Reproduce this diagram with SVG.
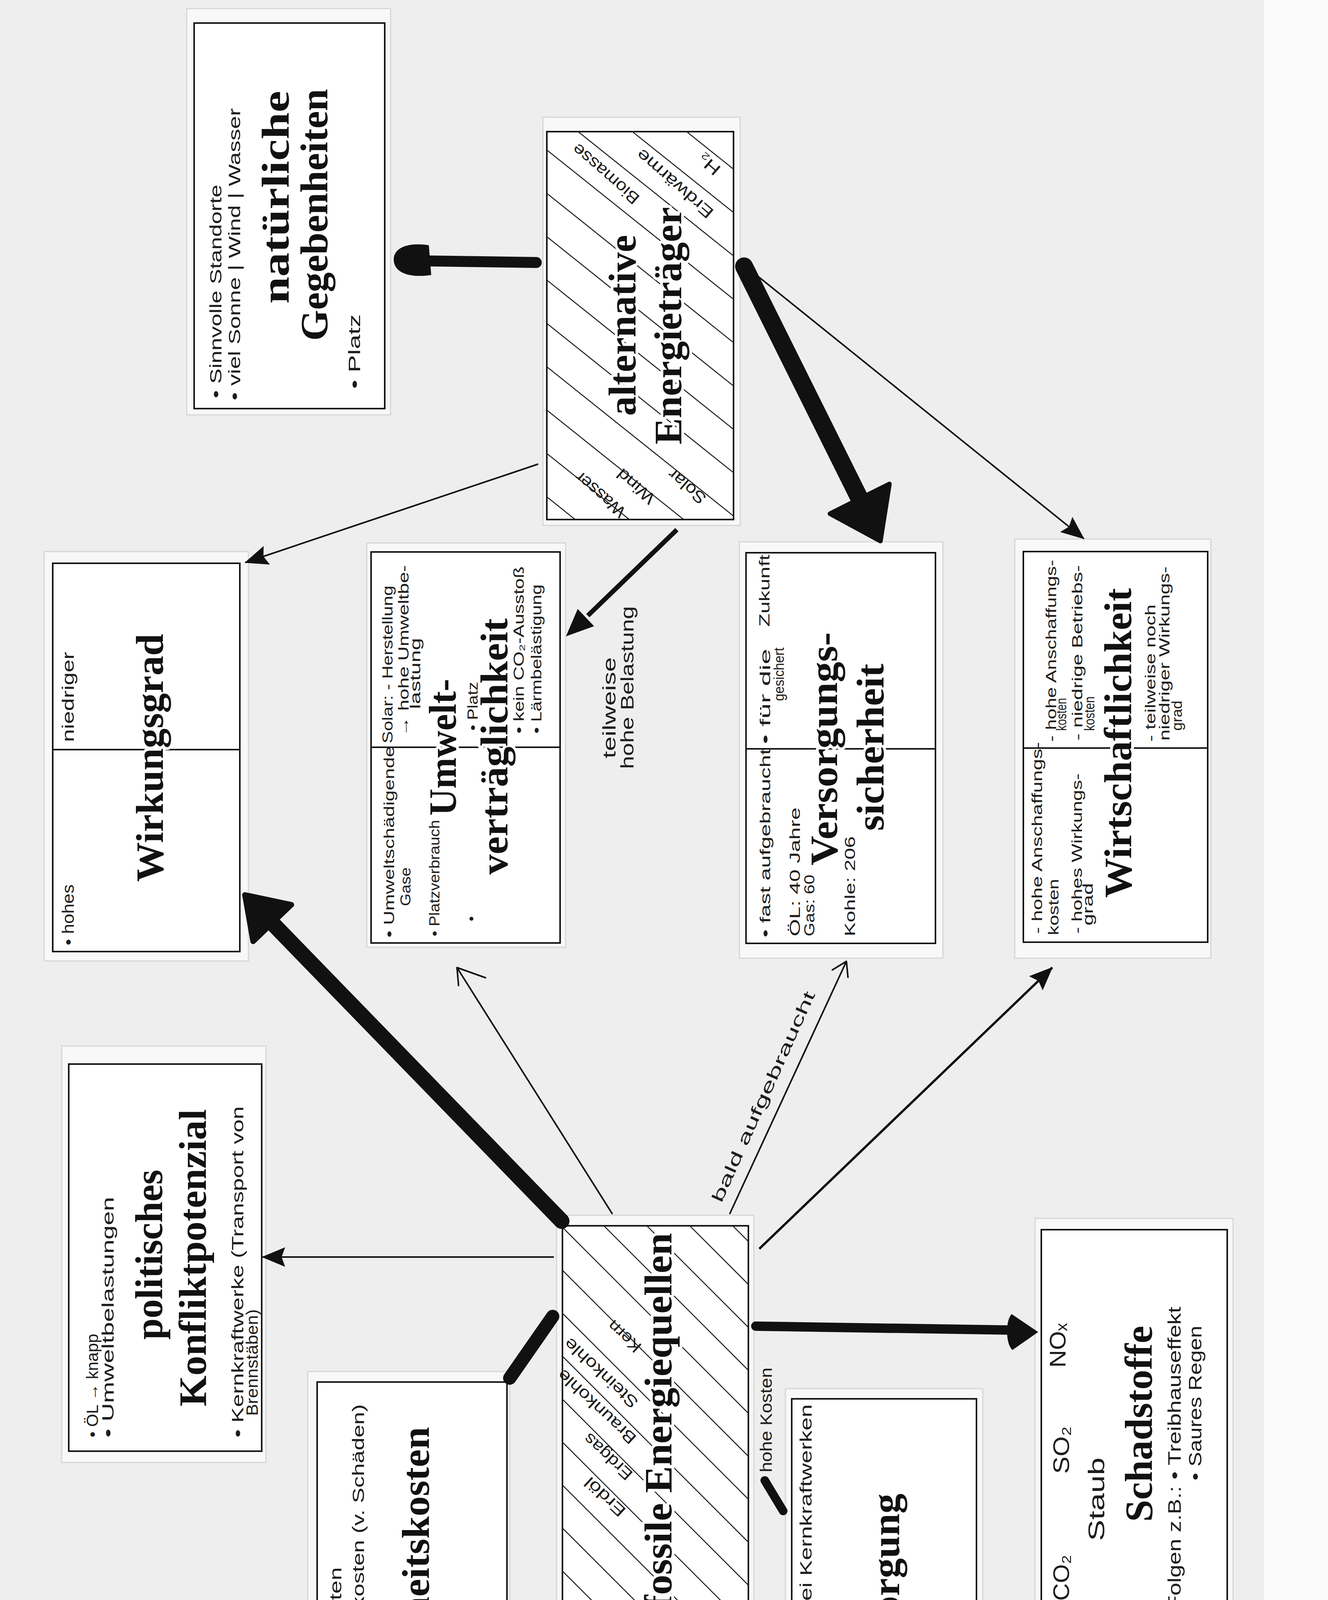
<svg xmlns="http://www.w3.org/2000/svg" width="3400" height="4680" viewBox="0 0 3400 4680">
<style>
.card{fill:#f8f8f8;stroke:#d6d6d6;stroke-width:3}
.box{fill:#ffffff;stroke:#141414;stroke-width:4}
.div{stroke:#141414;stroke-width:4}
.hatch{stroke:#1a1a1a;stroke-width:2.5}
.t{font-family:"Liberation Serif","Times New Roman",serif;font-weight:bold;font-size:100px;fill:#111;text-anchor:middle;stroke:#fff;stroke-width:14px;stroke-linejoin:round;paint-order:stroke}
.h{font-family:"Liberation Sans","DejaVu Sans",sans-serif;font-size:42px;fill:#1c1c1c;text-anchor:middle}
.s{font-size:36px}
.b{font-size:58px}
.m{font-size:46px}
.thin{stroke:#111;stroke-width:4;fill:none}
.mk{stroke:#111;stroke-linecap:round;fill:none}
.fill{fill:#111}
</style>
<defs>
<marker id="ah" markerUnits="userSpaceOnUse" viewBox="0 0 60 50" refX="58" refY="25" markerWidth="60" markerHeight="50" orient="auto">
<path d="M0,0 L60,25 L0,50 L9,25 Z" fill="#111"/>
</marker>
<clipPath id="clipAlt"><rect x="1400" y="337" width="478" height="993"/></clipPath>
<clipPath id="clipFos"><rect x="1440" y="3138" width="476" height="1000"/></clipPath>
</defs>

<rect x="0" y="0" width="3400" height="4680" fill="#fbfbfb"/>
<rect x="0" y="0" width="3236" height="4680" fill="#eeeeee"/>
<rect x="0" y="4638" width="3236" height="15" fill="#4a4a4a"/>

<g id="n-natur">
<rect class="card" x="478" y="22" width="522" height="1040"/>
<rect class="box" x="497" y="59" width="488" height="987"/>
<text class="h" transform="translate(567,746) rotate(-90)" textLength="547" lengthAdjust="spacingAndGlyphs">• Sinnvolle Standorte</text>
<text class="h" transform="translate(615,651) rotate(-90)" textLength="748" lengthAdjust="spacingAndGlyphs">• viel Sonne | Wind | Wasser</text>
<text class="h" transform="translate(922,900) rotate(-90)" textLength="191" lengthAdjust="spacingAndGlyphs">•  Platz</text>
<text class="t" transform="translate(739,505) rotate(-90)" textLength="545" lengthAdjust="spacingAndGlyphs">natürliche</text>
<text class="t" transform="translate(838,550) rotate(-90)" textLength="645" lengthAdjust="spacingAndGlyphs">Gegebenheiten</text>
</g>

<g id="n-alt">
<rect class="card" x="1390" y="300" width="505" height="1045"/>
<rect class="box" x="1400" y="337" width="478" height="993"/>
<g class="hatch" clip-path="url(#clipAlt)">
<line x1="1400" y1="51" x2="1878" y2="433"/>
<line x1="1400" y1="162" x2="1878" y2="544"/>
<line x1="1400" y1="273" x2="1878" y2="655"/>
<line x1="1400" y1="384" x2="1878" y2="766"/>
<line x1="1400" y1="495" x2="1878" y2="877"/>
<line x1="1400" y1="606" x2="1878" y2="988"/>
<line x1="1400" y1="717" x2="1878" y2="1099"/>
<line x1="1400" y1="828" x2="1878" y2="1210"/>
<line x1="1400" y1="939" x2="1878" y2="1321"/>
<line x1="1400" y1="1050" x2="1878" y2="1432"/>
<line x1="1400" y1="1161" x2="1878" y2="1543"/>
<line x1="1400" y1="1272" x2="1878" y2="1654"/>
</g>
<text class="h" transform="translate(1551,445) rotate(-139)" y="14" textLength="212" lengthAdjust="spacingAndGlyphs">Biomasse</text>
<text class="h" transform="translate(1728,470) rotate(-139)" y="14" textLength="246" lengthAdjust="spacingAndGlyphs">Erdwärme</text>
<text class="h" transform="translate(1814,422) rotate(-139)" y="16" textLength="62" lengthAdjust="spacingAndGlyphs">H₂</text>
<text class="h" transform="translate(1537,1266) rotate(-139)" y="14" textLength="155" lengthAdjust="spacingAndGlyphs">Wasser</text>
<text class="h" transform="translate(1628,1245) rotate(-139)" y="14" textLength="114" lengthAdjust="spacingAndGlyphs">Wind</text>
<text class="h" transform="translate(1759,1245) rotate(-139)" y="14" textLength="114" lengthAdjust="spacingAndGlyphs">Solar</text>
<text class="t" transform="translate(1627,833) rotate(-90)" textLength="463" lengthAdjust="spacingAndGlyphs">alternative</text>
<text class="t" transform="translate(1744,834) rotate(-90)" textLength="608" lengthAdjust="spacingAndGlyphs">Energieträger</text>
</g>

<g id="n-wirkung">
<rect class="card" x="113" y="1412" width="523" height="1048"/>
<rect class="box" x="135" y="1442" width="479" height="994"/>
<line class="div" x1="135" y1="1919" x2="614" y2="1919"/>
<text class="h" transform="translate(189,2342) rotate(-90)" textLength="156" lengthAdjust="spacingAndGlyphs">• hohes</text>
<text class="h" transform="translate(189,1784) rotate(-90)" textLength="231" lengthAdjust="spacingAndGlyphs">niedriger</text>
<text class="t" transform="translate(417,1940) rotate(-90)" textLength="635" lengthAdjust="spacingAndGlyphs">Wirkungsgrad</text>
</g>

<g id="n-umwelt">
<rect class="card" x="939" y="1390" width="509" height="1035"/>
<rect class="box" x="950" y="1413" width="484" height="1001"/>
<line class="div" x1="950" y1="1913" x2="1434" y2="1913"/>
<text class="h s" transform="translate(1009,2155) rotate(-90)" textLength="490" lengthAdjust="spacingAndGlyphs">• Umweltschädigende</text>
<text class="h s" transform="translate(1051,2270) rotate(-90)" textLength="99" lengthAdjust="spacingAndGlyphs">Gase</text>
<text class="h s" transform="translate(1125,2248) rotate(-90)" textLength="298" lengthAdjust="spacingAndGlyphs">• Platzverbrauch</text>
<circle cx="1207" cy="2352" r="5" fill="#1c1c1c"/>
<text class="h s" transform="translate(1005,1701) rotate(-90)" textLength="404" lengthAdjust="spacingAndGlyphs">Solar: - Herstellung</text>
<text class="h s" transform="translate(1046,1666) rotate(-90)" textLength="438" lengthAdjust="spacingAndGlyphs">→ hohe Umweltbe-</text>
<text class="h s" transform="translate(1076,1724) rotate(-90)" textLength="182" lengthAdjust="spacingAndGlyphs">lastung</text>
<text class="h s" transform="translate(1223,1808) rotate(-90)" textLength="125" lengthAdjust="spacingAndGlyphs">• Platz</text>
<text class="h s" transform="translate(1341,1664) rotate(-90)" textLength="428" lengthAdjust="spacingAndGlyphs">• kein CO₂-Ausstoß</text>
<text class="h s" transform="translate(1386,1687) rotate(-90)" textLength="382" lengthAdjust="spacingAndGlyphs">• Lärmbelästigung</text>
<text class="t" transform="translate(1167,1913) rotate(-90)" textLength="350" lengthAdjust="spacingAndGlyphs">Umwelt-</text>
<text class="t" transform="translate(1299,1911) rotate(-90)" textLength="656" lengthAdjust="spacingAndGlyphs">verträglichkeit</text>
</g>

<g id="n-versorgung">
<rect class="card" x="1893" y="1387" width="521" height="1066"/>
<rect class="box" x="1910" y="1415" width="485" height="1000"/>
<line class="div" x1="1910" y1="1917" x2="2395" y2="1917"/>
<text class="h s" transform="translate(1972,2158) rotate(-90)" textLength="483" lengthAdjust="spacingAndGlyphs">• fast aufgebraucht</text>
<text class="h s" transform="translate(2048,2232) rotate(-90)" textLength="330" lengthAdjust="spacingAndGlyphs">ÖL: 40 Jahre</text>
<text class="h s" transform="translate(2085,2318) rotate(-90)" textLength="158" lengthAdjust="spacingAndGlyphs">Gas: 60</text>
<text class="h s" transform="translate(2189,2269) rotate(-90)" textLength="256" lengthAdjust="spacingAndGlyphs">Kohle: 206</text>
<text class="h s" transform="translate(1972,1783) rotate(-90)" textLength="244" lengthAdjust="spacingAndGlyphs">• für die</text>
<text class="h s" transform="translate(1970,1512) rotate(-90)" textLength="185" lengthAdjust="spacingAndGlyphs">Zukunft</text>
<text class="h s" transform="translate(2007,1726) rotate(-90)" textLength="137" lengthAdjust="spacingAndGlyphs">gesichert</text>
<text class="t" transform="translate(2143,1917) rotate(-90)" textLength="597" lengthAdjust="spacingAndGlyphs">Versorgungs-</text>
<text class="t" transform="translate(2262,1913) rotate(-90)" textLength="428" lengthAdjust="spacingAndGlyphs">sicherheit</text>
</g>

<g id="n-wirtschaft">
<rect class="card" x="2598" y="1380" width="502" height="1073"/>
<rect class="box" x="2620" y="1412" width="472" height="1000"/>
<line class="div" x1="2620" y1="1915" x2="3092" y2="1915"/>
<text class="h s" transform="translate(2668,2145) rotate(-90)" textLength="491" lengthAdjust="spacingAndGlyphs">- hohe Anschaffungs-</text>
<text class="h s" transform="translate(2710,2322) rotate(-90)" textLength="144" lengthAdjust="spacingAndGlyphs">kosten</text>
<text class="h s" transform="translate(2770,2185) rotate(-90)" textLength="410" lengthAdjust="spacingAndGlyphs">- hohes Wirkungs-</text>
<text class="h s" transform="translate(2798,2315) rotate(-90)" textLength="109" lengthAdjust="spacingAndGlyphs">grad</text>
<text class="h s" transform="translate(2704,1666) rotate(-90)" textLength="466" lengthAdjust="spacingAndGlyphs">- hohe Anschaffungs-</text>
<text class="h s" transform="translate(2730,1829) rotate(-90)" textLength="84" lengthAdjust="spacingAndGlyphs">kosten</text>
<text class="h s" transform="translate(2771,1671) rotate(-90)" textLength="449" lengthAdjust="spacingAndGlyphs">- niedrige Betriebs-</text>
<text class="h s" transform="translate(2802,1827) rotate(-90)" textLength="88" lengthAdjust="spacingAndGlyphs">kosten</text>
<text class="h s" transform="translate(2958,1723) rotate(-90)" textLength="351" lengthAdjust="spacingAndGlyphs">- teilweise noch</text>
<text class="h s" transform="translate(2994,1673) rotate(-90)" textLength="446" lengthAdjust="spacingAndGlyphs">niedriger Wirkungs-</text>
<text class="h s" transform="translate(3026,1832) rotate(-90)" textLength="77" lengthAdjust="spacingAndGlyphs">grad</text>
<text class="t" transform="translate(2896,1902) rotate(-90)" textLength="793" lengthAdjust="spacingAndGlyphs">Wirtschaftlichkeit</text>
</g>

<g id="n-fossil">
<rect class="card" x="1425" y="3111" width="505" height="1056"/>
<rect class="box" x="1440" y="3138" width="476" height="1000"/>
<g class="hatch" clip-path="url(#clipFos)">
<line x1="1440" y1="2702" x2="1916" y2="3178"/>
<line x1="1440" y1="2812" x2="1916" y2="3288"/>
<line x1="1440" y1="2922" x2="1916" y2="3398"/>
<line x1="1440" y1="3032" x2="1916" y2="3508"/>
<line x1="1440" y1="3142" x2="1916" y2="3618"/>
<line x1="1440" y1="3252" x2="1916" y2="3728"/>
<line x1="1440" y1="3362" x2="1916" y2="3838"/>
<line x1="1440" y1="3472" x2="1916" y2="3948"/>
<line x1="1440" y1="3582" x2="1916" y2="4058"/>
<line x1="1440" y1="3692" x2="1916" y2="4168"/>
<line x1="1440" y1="3802" x2="1916" y2="4278"/>
<line x1="1440" y1="3912" x2="1916" y2="4388"/>
<line x1="1440" y1="4022" x2="1916" y2="4498"/>
<line x1="1440" y1="4132" x2="1916" y2="4608"/>
</g>
<text class="h" transform="translate(1599,3421) rotate(-137)" y="14" textLength="100" lengthAdjust="spacingAndGlyphs">Kern</text>
<text class="h" transform="translate(1539,3515) rotate(-137)" y="14" textLength="242" lengthAdjust="spacingAndGlyphs">Steinkohle</text>
<text class="h" transform="translate(1528,3601) rotate(-137)" y="14" textLength="258" lengthAdjust="spacingAndGlyphs">Braunkohle</text>
<text class="h" transform="translate(1557,3729) rotate(-137)" y="14" textLength="154" lengthAdjust="spacingAndGlyphs">Erdgas</text>
<text class="h" transform="translate(1549,3832) rotate(-137)" y="14" textLength="127" lengthAdjust="spacingAndGlyphs">Erdöl</text>
<text class="t" transform="translate(1719,3637) rotate(-90)" textLength="961" lengthAdjust="spacingAndGlyphs">fossile Energiequellen</text>
</g>

<g id="n-politik">
<rect class="card" x="158" y="2678" width="523" height="1066"/>
<rect class="box" x="176" y="2724" width="494" height="991"/>
<text class="h" transform="translate(251,3547) rotate(-90)" textLength="265" lengthAdjust="spacingAndGlyphs">• ÖL → knapp</text>
<text class="h" transform="translate(291,3372) rotate(-90)" textLength="616" lengthAdjust="spacingAndGlyphs">• Umweltbelastungen</text>
<text class="h" transform="translate(623,3256) rotate(-90)" textLength="848" lengthAdjust="spacingAndGlyphs">• Kernkraftwerke (Transport von</text>
<text class="h" transform="translate(660,3488) rotate(-90)" textLength="273" lengthAdjust="spacingAndGlyphs">Brennstäben)</text>
<text class="t" transform="translate(415,3212) rotate(-90)" textLength="435" lengthAdjust="spacingAndGlyphs">politisches</text>
<text class="t" transform="translate(527,3220) rotate(-90)" textLength="761" lengthAdjust="spacingAndGlyphs">Konfliktpotenzial</text>
</g>

<g id="n-sicherheit">
<rect class="card" x="788" y="3511" width="517" height="1052"/>
<rect class="box" x="812" y="3538" width="486" height="998"/>
<text class="h" transform="translate(874,4256) rotate(-90)" textLength="488" lengthAdjust="spacingAndGlyphs">• Schadenskosten</text>
<text class="h" transform="translate(932,4047) rotate(-90)" textLength="905" lengthAdjust="spacingAndGlyphs">• Vermeidungskosten (v. Schäden)</text>
<text class="t" transform="translate(1098,4039) rotate(-90)" textLength="772" lengthAdjust="spacingAndGlyphs">Sicherheitskosten</text>
</g>

<g id="n-entsorgung">
<rect class="card" x="2011" y="3555" width="505" height="1045"/>
<rect class="box" x="2027" y="3581" width="473" height="997"/>
<text class="h" transform="translate(2078,4075) rotate(-90)" textLength="960" lengthAdjust="spacingAndGlyphs">• hauptsächlich bei Kernkraftwerken</text>
<text class="t" transform="translate(2302,4080) rotate(-90)" textLength="513" lengthAdjust="spacingAndGlyphs">Entsorgung</text>
</g>

<g id="n-schadstoffe">
<rect class="card" x="2650" y="3119" width="507" height="1048"/>
<rect class="box" x="2666" y="3148" width="476" height="992"/>
<text class="h b" transform="translate(2737,4039) rotate(-90)" textLength="118" lengthAdjust="spacingAndGlyphs">CO₂</text>
<text class="h b" transform="translate(2737,3712) rotate(-90)" textLength="122" lengthAdjust="spacingAndGlyphs">SO₂</text>
<text class="h b" transform="translate(2728,3444) rotate(-90)" textLength="114" lengthAdjust="spacingAndGlyphs">NOₓ</text>
<text class="h b" transform="translate(2827,3838) rotate(-90)" textLength="214" lengthAdjust="spacingAndGlyphs">Staub</text>
<text class="h m" transform="translate(3023,3733) rotate(-90)" textLength="776" lengthAdjust="spacingAndGlyphs">Folgen z.B.: • Treibhauseffekt</text>
<text class="h m" transform="translate(3076,3592) rotate(-90)" textLength="396" lengthAdjust="spacingAndGlyphs">• Saures Regen</text>
<text class="t" transform="translate(2949,3645) rotate(-90)" textLength="502" lengthAdjust="spacingAndGlyphs">Schadstoffe</text>
</g>

<g id="connectors">
<!-- alternative -> natürliche Gegebenheiten -->
<path class="mk" d="M1373,672 L1095,668" stroke-width="28"/>
<path class="fill" d="M1008,664 C1008,632 1050,620 1098,628 L1104,704 C1052,712 1008,700 1008,664 Z"/>
<!-- alternative -> Wirkungsgrad -->
<line class="thin" x1="1378" y1="1188" x2="628" y2="1440" marker-end="url(#ah)"/>
<!-- alternative -> Versorgungssicherheit -->
<line class="mk" x1="1905" y1="682" x2="2201" y2="1277" stroke-width="46"/>
<polygon class="fill" points="2254,1385 2277,1239 2125,1315" stroke="#111" stroke-width="12" stroke-linejoin="round"/>
<!-- alternative -> Wirtschaftlichkeit -->
<line class="thin" x1="1924" y1="694" x2="2775" y2="1379" marker-end="url(#ah)"/>
<!-- alternative -> Umweltverträglichkeit -->
<line x1="1733" y1="1356" x2="1505" y2="1576" stroke="#111" stroke-width="12"/>
<polygon class="fill" points="1449,1629 1521,1603 1479,1559"/>
<text class="h m" transform="translate(1576,1812) rotate(-90)" textLength="259" lengthAdjust="spacingAndGlyphs">teilweise</text>
<text class="h m" transform="translate(1622,1760) rotate(-90)" textLength="417" lengthAdjust="spacingAndGlyphs">hohe Belastung</text>
<!-- fossile -> Wirkungsgrad -->
<line class="mk" x1="1438" y1="3126" x2="697" y2="2363" stroke-width="40"/>
<polygon class="fill" points="627,2291 746,2316 648,2410" stroke="#111" stroke-width="14" stroke-linejoin="round"/>
<!-- fossile -> Umweltverträglichkeit -->
<line class="thin" x1="1568" y1="3108" x2="1170" y2="2477"/>
<polyline class="thin" points="1174,2523 1170,2477 1243,2503" stroke-linecap="round" stroke-linejoin="round"/>
<!-- fossile -> Versorgungssicherheit -->
<line class="thin" x1="1868" y1="3108" x2="2167" y2="2461"/>
<polyline class="thin" points="2131,2483 2167,2461 2171,2502" stroke-linecap="round" stroke-linejoin="round"/>
<text class="h" transform="translate(1971,2815) rotate(-65.8)" y="-4" font-size="52" textLength="587" lengthAdjust="spacingAndGlyphs">bald aufgebraucht</text>
<!-- fossile -> Wirtschaftlichkeit -->
<line x1="1944" y1="3197" x2="2694" y2="2477" stroke="#111" stroke-width="6" marker-end="url(#ah)"/>
<!-- fossile -> politisches Konfliktpotenzial -->
<line class="thin" x1="1418" y1="3218" x2="672" y2="3218" marker-end="url(#ah)"/>
<!-- fossile -> Sicherheitskosten -->
<line class="mk" x1="1415" y1="3370" x2="1305" y2="3528" stroke-width="34"/>
<!-- fossile -> Schadstoffe -->
<line class="mk" x1="1935" y1="3395" x2="2590" y2="3405" stroke-width="24"/>
<path class="fill" d="M2658,3410 L2592,3456 C2574,3440 2574,3380 2590,3364 Z"/>
<!-- fossile -> Entsorgung -->
<line class="mk" x1="1958" y1="3790" x2="2005" y2="3868" stroke-width="22" stroke-linecap="butt"/>
<text class="h" transform="translate(1976,3635) rotate(-90)" textLength="268" lengthAdjust="spacingAndGlyphs">hohe Kosten</text>
</g>
</svg>
